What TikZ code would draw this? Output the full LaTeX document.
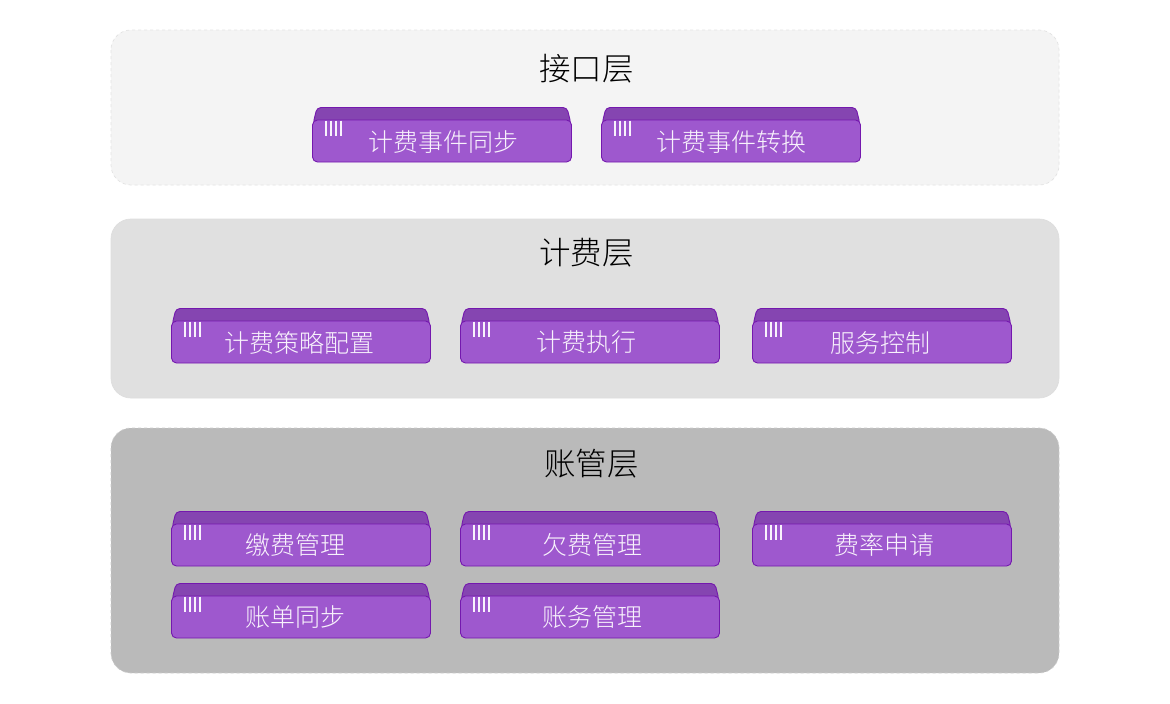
\documentclass[tikz,border=0pt]{standalone}
\usepackage{fontspec}
\setmainfont{Noto Sans CJK SC}[UprightFont=* Light]
\definecolor{chipfront}{HTML}{9E58CE}
\definecolor{chiptop}{HTML}{8545B1}
\definecolor{chipline}{HTML}{7418AE}
\definecolor{chipink}{HTML}{F8F2FC}
\tikzset{x=1pt,y=-1pt,
 panel/.style={rounded corners=20pt,line width=.7pt},
 paneltitle/.style={font=\fontsize{31.5}{31.5}\selectfont,text=black,inner sep=0pt},
 chiptext/.style={font=\fontsize{25}{25}\selectfont,text=chipink,inner sep=0pt},
 chipfrontshape/.style={fill=chipfront,draw=chipline,line width=.9pt,rounded corners=5pt},
 chiptopshape/.style={fill=chiptop,draw=chipline,line width=.9pt,rounded corners=4pt},
 stripe/.style={draw=chipink,line width=1.4pt}}
\newcommand{\chip}[6]{% name, left, top, text centre x, text offset y, text
 \begin{scope}[shift={(#2,#3)}]
 \draw[chiptopshape] (1,17) -- (5,0.5) -- (255,0.5) -- (259,17) -- cycle;
 \draw[chipfrontshape] (0.5,13) rectangle (259.5,55);
 \foreach \s in {13.5,18.5,23.5,28.5}{\draw[stripe] (\s+.5,13.5) -- (\s+.5,29);}
 \end{scope}
 \node[chiptext,anchor=center] (#1) at (#4,#3+#5) {#6};
}
\begin{document}
\begin{tikzpicture}
\useasboundingbox (0,0) rectangle (1170,704);
\fill[white] (0,0) rectangle (1170,704);
\draw[panel,fill=black!4.5,draw=black!11,dashed] (111,30) rectangle (1059,185);
\draw[panel,fill=black!12,draw=black!13] (111,219) rectangle (1059,398);
\draw[panel,fill=black!27,draw=black!20,dashed] (111,428) rectangle (1059,673);
\node[paneltitle] (t1) at (586.5,69) {接口层};
\node[paneltitle] (t2) at (586.5,253) {计费层};
\node[paneltitle] (t3) at (591.5,464) {账管层};
\chip{a1}{312}{107}{443.5}{35}{计费事件同步}
\chip{a2}{601}{107}{731.5}{35}{计费事件转换}
\chip{b1}{171}{308}{299.5}{34.5}{计费策略配置}
\chip{b2}{460}{308}{586}{34.5}{计费执行}
\chip{b3}{752}{308}{880.5}{34.5}{服务控制}
\chip{c1}{171}{511}{295.5}{33.5}{缴费管理}
\chip{c2}{460}{511}{592.5}{33.5}{欠费管理}
\chip{c3}{752}{511}{884.5}{33.5}{费率申请}
\chip{c4}{171}{583}{295}{34}{账单同步}
\chip{c5}{460}{583}{592.5}{34}{账务管理}
\end{tikzpicture}
\end{document}
